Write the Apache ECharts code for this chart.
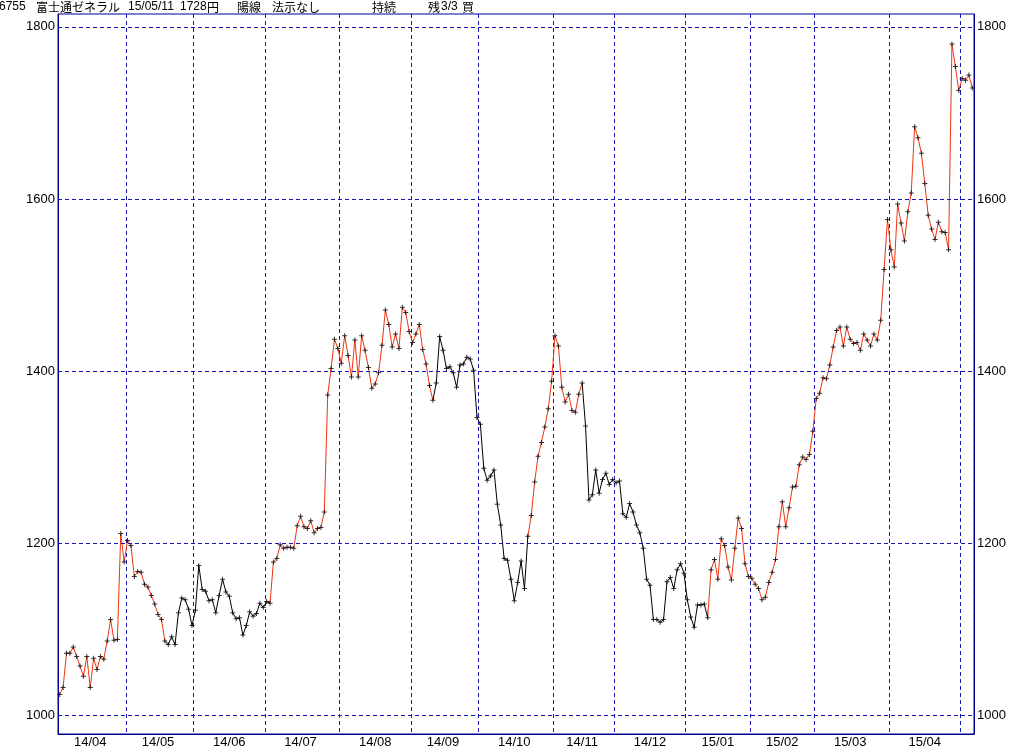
<!DOCTYPE html>
<html>
<head>
<meta charset="utf-8">
<title>6755 富士通ゼネラル</title>
<script src="https://cdn.jsdelivr.net/npm/echarts@6/dist/echarts.min.js"></script>
<style>
  html, body { margin: 0; padding: 0; background: #fff; }
  #chart { width: 1009px; height: 752px; }
</style>
</head>
<body>
<div id="chart"></div>
<script>
  // month labels and number of trading days shown in each month
  const monthLabels = ['14/04', '14/05', '14/06', '14/07', '14/08', '14/09', '14/10',
    '14/11', '14/12', '15/01', '15/02', '15/03', '15/04', '15/05'];
  const monthDays = [20, 20, 21, 22, 21, 20, 22, 18, 21, 19, 19, 22, 21, 4];

  // daily closes (yen)
  const closes = [
    1024, 1032, 1072, 1072, 1079, 1068, 1057, 1045, 1068, 1032,
    1066, 1053, 1068, 1065, 1086, 1111, 1087, 1088, 1211, 1178,
    1203, 1197, 1161, 1167, 1166, 1152, 1149, 1139, 1129, 1117,
    1111, 1086, 1082, 1091, 1082, 1119, 1136, 1134, 1123, 1104,
    1122, 1174, 1146, 1144, 1133, 1134, 1119, 1139, 1158, 1143,
    1138, 1119, 1112, 1113, 1093, 1104, 1120, 1115, 1118, 1130,
    1125, 1132, 1130, 1178, 1182, 1198, 1194, 1195, 1195, 1194,
    1220, 1231, 1219, 1217, 1226, 1212, 1217, 1218, 1236, 1372,
    1403, 1437, 1426, 1409, 1441, 1418, 1393, 1436, 1393, 1441,
    1424, 1404, 1380, 1385, 1398, 1430, 1471, 1454, 1428, 1443,
    1426, 1474, 1468, 1446, 1433, 1443, 1454, 1425, 1408, 1383,
    1366, 1386, 1440, 1424, 1403, 1405, 1398, 1381, 1407, 1408,
    1416, 1414, 1401, 1346, 1338, 1287, 1273, 1278, 1285, 1245,
    1221, 1182, 1180, 1158, 1133, 1154, 1179, 1147, 1208, 1232,
    1271, 1301, 1317, 1335, 1356, 1388, 1441, 1429, 1381, 1364,
    1373, 1354, 1352, 1373, 1386, 1336, 1250, 1256, 1285, 1258,
    1274, 1281, 1268, 1274, 1270, 1272, 1234, 1230, 1246, 1236,
    1221, 1212, 1194, 1158, 1151, 1111, 1111, 1108, 1111, 1155,
    1160, 1147, 1169, 1176, 1165, 1134, 1114, 1102, 1128, 1128,
    1129, 1113, 1169, 1181, 1158, 1205, 1197, 1172, 1157, 1194,
    1229, 1217, 1176, 1161, 1159, 1152, 1147, 1134, 1137, 1154,
    1166, 1181, 1219, 1248, 1219, 1241, 1265, 1266, 1291, 1300,
    1297, 1303, 1330, 1368, 1374, 1392, 1391, 1407, 1428, 1447,
    1451, 1429, 1451, 1437, 1432, 1433, 1424, 1443, 1436, 1429,
    1443, 1436, 1459, 1518, 1576, 1541, 1521, 1594, 1572, 1551,
    1585, 1607, 1684, 1671, 1653, 1618, 1581, 1565, 1553, 1573,
    1562, 1561, 1541, 1780, 1754, 1726, 1740, 1738, 1744, 1729
  ];

  // index ranges where the signal is on (line drawn in red)
  const signalOn = [[0, 31], [62, 110], [138, 154], [191, 270]];

  const yTicks = [1000, 1200, 1400, 1600, 1800];

  const RED = '#ee3311';
  const BLACK = '#000000';
  const NAVY = '#000090';
  const GRIDBLUE = '#1818b8';

  // build categories and month boundary / label positions
  const categories = [];
  const monthStart = new Set();
  const labelAt = new Set();
  monthLabels.forEach((m, k) => {
    const start = categories.length;
    monthStart.add(start);
    if (monthDays[k] > 10) labelAt.add(start + Math.floor(monthDays[k] / 2) - (monthDays[k] % 2 ? 0 : 1));
    for (let d = 0; d < monthDays[k]; d++) categories.push(m + '#' + d);
  });

  const pieces = [];
  let prev = 0;
  signalOn.forEach(([a, b]) => {
    if (a > prev) pieces.push({ gte: prev, lt: a, color: BLACK });
    pieces.push({ gte: a, lt: b, color: RED });
    prev = b;
  });

  const chart = echarts.init(document.getElementById('chart'), null, { renderer: 'canvas' });

  const LATIN = '12px "Liberation Sans"';
  const CJK = '12px "Noto Sans CJK JP"';
  const header = [
    ['6755', -1, LATIN], ['富士通ゼネラル', 36, CJK], ['15/05/11', 128, LATIN],
    ['1728', 180, LATIN], ['円', 207, CJK], ['陽線', 237, CJK], ['法示なし', 272, CJK],
    ['持続', 372, CJK], ['残', 428, CJK], ['3/3', 441, LATIN], ['買', 462, CJK]
  ];

  chart.setOption({
    animation: false,
    backgroundColor: '#ffffff',
    textStyle: { fontFamily: '"Noto Sans CJK JP", "Liberation Sans", sans-serif' },
    grid: {
      left: 58, right: 35, top: 14, bottom: 18,
      show: true, borderColor: NAVY, borderWidth: 1, backgroundColor: '#ffffff'
    },
    graphic: header.map(([t, x, f]) => ({
      type: 'text', x: x, y: 7, silent: true,
      style: { text: t, fill: '#000', font: f, verticalAlign: 'middle' }
    })),
    visualMap: {
      type: 'piecewise', show: false, dimension: 0, seriesIndex: 0,
      pieces: pieces, outOfRange: { color: BLACK }
    },
    xAxis: {
      type: 'category',
      data: categories,
      boundaryGap: true,
      axisLine: { show: true, lineStyle: { color: NAVY } },
      axisTick: { show: false },
      axisLabel: {
        interval: (i) => labelAt.has(i),
        formatter: (v) => v.split('#')[0],
        color: '#000', fontSize: 13, margin: 2,
        fontFamily: '"Liberation Sans", sans-serif'
      },
      splitLine: {
        show: true,
        interval: (i) => i > 0 && monthStart.has(i),
        lineStyle: { color: GRIDBLUE, type: [4, 3], width: 1 }
      }
    },
    yAxis: [0, 1].map((k) => ({
      type: 'value',
      position: k ? 'right' : 'left',
      min: 978, max: 1815,
      axisLine: { show: true, lineStyle: { color: NAVY } },
      axisTick: { show: false },
      splitLine: { show: false },
      axisLabel: {
        customValues: yTicks,
        formatter: (v) => String(v),
        color: '#000', fontSize: 13, margin: 3,
        fontFamily: '"Liberation Sans", sans-serif'
      }
    })),
    series: [
      {
        type: 'line',
        data: closes,
        showSymbol: false,
        lineStyle: { width: 1 },
        z: 3
      },
      {
        type: 'scatter',
        data: closes,
        symbol: 'path://M2 0h1v5h-1zM0 2h5v1h-5z',
        symbolSize: 5,
        itemStyle: { color: '#000' },
        z: 4
      },
      {
        type: 'line',
        data: closes,
        showSymbol: false,
        lineStyle: { opacity: 0 },
        silent: true,
        z: 1,
        markLine: {
          silent: true,
          symbol: ['none', 'none'],
          label: { show: false },
          lineStyle: { color: GRIDBLUE, type: [4, 3], width: 1 },
          data: yTicks.map((v) => ({ yAxis: v }))
        }
      }
    ]
  });
</script>
</body>
</html>
